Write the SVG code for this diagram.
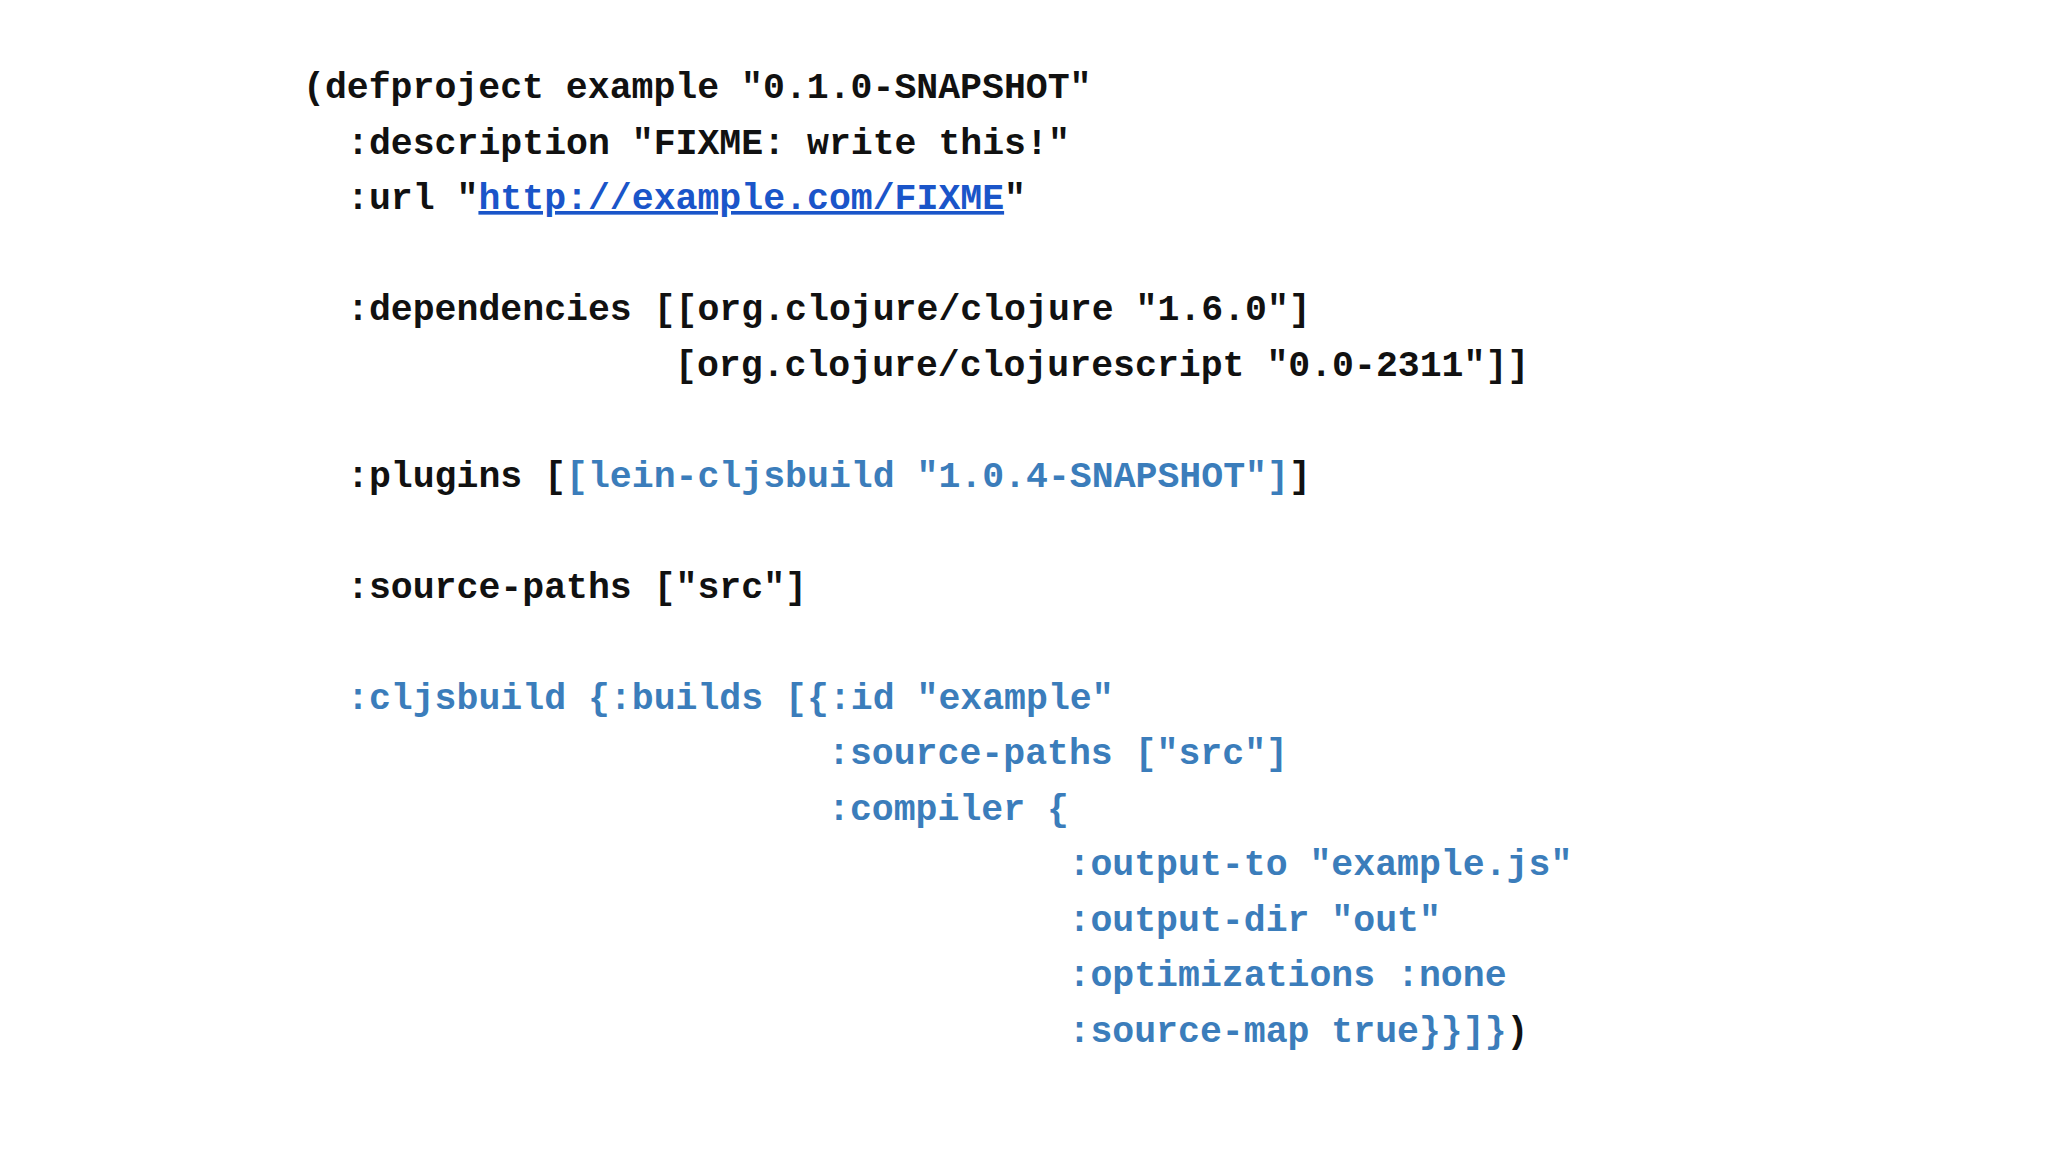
<svg xmlns="http://www.w3.org/2000/svg" width="2048" height="1152" viewBox="0 0 2048 1152">
<style>
text{font-family:"Liberation Mono","DejaVu Sans Mono",monospace;font-size:36.5px;font-weight:bold;fill:#111;white-space:pre}
.b{fill:#3b7dbb}
.l{fill:#1a55c9;text-decoration:underline}
</style>
<rect width="2048" height="1152" fill="#fff"/>
<g id="code" xml:space="preserve">
<text x="303" y="98">(defproject example "0.1.0-SNAPSHOT"</text>
<text x="347" y="153.5">:description "FIXME: write this!"</text>
<text x="347" y="209">:url "<tspan class="l">http://example.com/FIXME</tspan>"</text>
<text x="347" y="320">:dependencies [[org.clojure/clojure "1.6.0"]</text>
<text x="675" y="375.5">[org.clojure/clojurescript "0.0-2311"]]</text>
<text x="347" y="486.5">:plugins [<tspan class="b">[lein-cljsbuild "1.0.4-SNAPSHOT"]</tspan>]</text>
<text x="347" y="597.5">:source-paths ["src"]</text>
<text x="347" y="708.5" class="b">:cljsbuild {:builds [{:id "example"</text>
<text x="828" y="764" class="b">:source-paths ["src"]</text>
<text x="828" y="819.5" class="b">:compiler {</text>
<text x="1068.5" y="875" class="b">:output-to "example.js"</text>
<text x="1068.5" y="930.5" class="b">:output-dir "out"</text>
<text x="1068.5" y="986" class="b">:optimizations :none</text>
<text x="1068.5" y="1041.5"><tspan class="b">:source-map true}}]}</tspan>)</text>
</g>
</svg>
